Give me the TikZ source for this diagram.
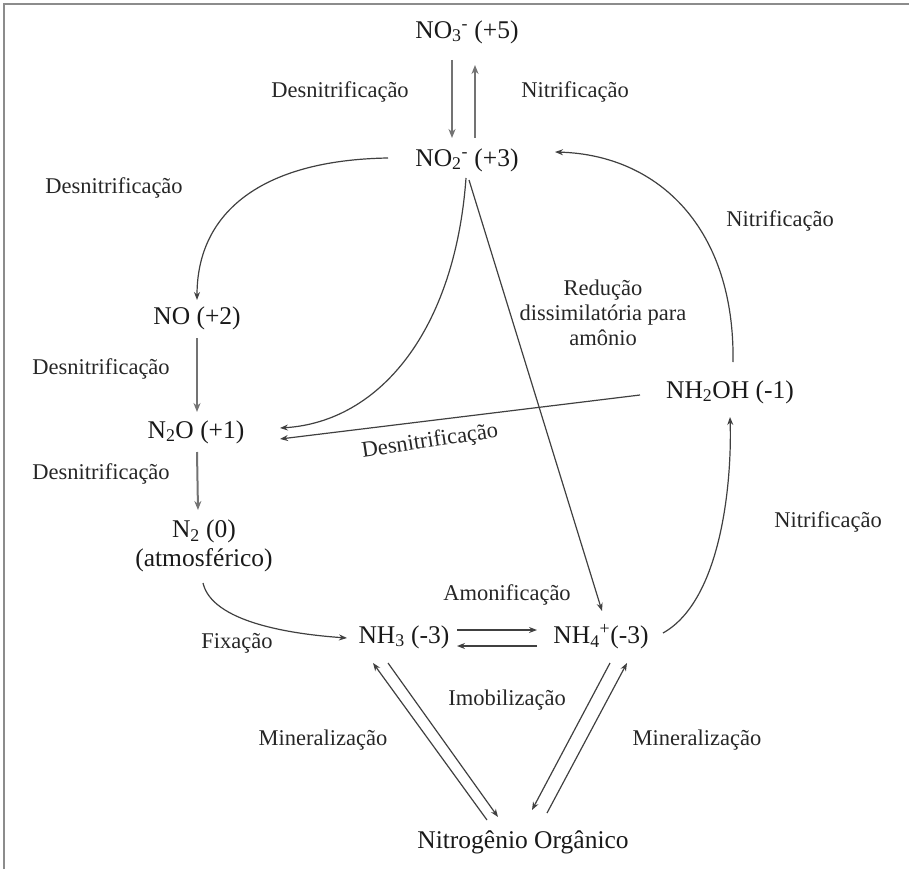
\documentclass[tikz,border=0pt]{standalone}
\usepackage{fontspec}
\setmainfont{Liberation Serif}
\usetikzlibrary{arrows.meta,calc}
\begin{document}
\begin{tikzpicture}[x=1pt,y=-1pt,
  chem/.style={font=\fontsize{25.5}{29}\selectfont, inner sep=1pt, text=black!90},
  lbl/.style={font=\fontsize{22.5}{25}\selectfont, inner sep=1pt, text=black!85},
  arr/.style={draw=black!75, line width=1.2pt, -{Stealth[length=8pt,width=6pt]}},
  varr/.style={draw=black!55, line width=2pt, -{Stealth[length=9pt,width=7pt]}}]
\useasboundingbox (0,0) rectangle (909,869);
\draw[black!45, line width=2.5pt] (4,869) -- (4,4) -- (909,4);

% chemical species
\node[chem] (no5) at (467,32) {NO\textsubscript{3}\textsuperscript{-} (+5)};
\node[chem] (no2) at (467,160) {NO\textsubscript{2}\textsuperscript{-} (+3)};
\node[chem] (no) at (197,318) {NO (+2)};
\node[chem] (n2o) at (196,432) {N\textsubscript{2}O (+1)};
\node[chem, align=center] (n2) at (204,546) {N\textsubscript{2} (0)\\(atmosférico)};
\node[chem] (nh3) at (404,637) {NH\textsubscript{3} (-3)};
\node[chem] (nh4) at (601,637) {NH\textsubscript{4}\textsuperscript{+}(-3)};
\node[chem] (nh2oh) at (730,392) {NH\textsubscript{2}OH (-1)};
\node[chem] (org) at (523,842) {Nitrogênio Orgânico};

% labels
\node[lbl] (l1) at (340,92) {Desnitrificação};
\node[lbl] (l2) at (575,92) {Nitrificação};
\node[lbl] (l3) at (114,188) {Desnitrificação};
\node[lbl] (l4) at (780,221) {Nitrificação};
\node[lbl, align=center] (l5) at (603,313) {Redução\\dissimilatória para\\amônio};
\node[lbl] (l6) at (101,369) {Desnitrificação};
\node[lbl] (l7) at (101,474) {Desnitrificação};
\node[lbl, rotate=8.5] (l8) at (430,442) {Desnitrificação};
\node[lbl] (l9) at (828,522) {Nitrificação};
\node[lbl] (l10) at (507,595) {Amonificação};
\node[lbl] (l11) at (237,643) {Fixação};
\node[lbl] (l12) at (507,700) {Imobilização};
\node[lbl] (l13) at (323,740) {Mineralização};
\node[lbl] (l14) at (697,740) {Mineralização};

% NO3 <-> NO2
\draw[varr, line width=1.6pt] ($(no5.center)+(-15,28)$) -- ($(no2.center)+(-15,-22)$);
\draw[varr, line width=1.6pt] ($(no2.center)+(8,-22)$) -- ($(no5.center)+(8,33)$);

% NO2 -> NO
\draw[arr] ($(no2.center)+(-79,-2)$) .. controls (262,160) and (197,212) .. ($(no.center)+(0,-18)$);
% NO -> N2O -> N2
\draw[varr] ($(no.center)+(0,20)$) -- ($(n2o.center)+(1,-20)$);
\draw[varr] ($(n2o.center)+(1,20)$) -- ($(n2.center)+(-6,-36)$);

% NO2 -> N2O
\draw[arr] ($(no2.center)+(-1,18)$) .. controls (455,330) and (380,422) .. ($(n2o.center)+(84,-4)$);
% NH2OH -> N2O
\draw[arr] ($(nh2oh.center)+(-90,3)$) -- ($(n2o.center)+(84,7)$);
% NO2 -> NH4
\draw[arr] ($(no2.center)+(2,20)$) -- ($(nh4.center)+(1,-26)$);
% NH2OH -> NO2
\draw[arr] ($(nh2oh.center)+(3,-30)$) .. controls (735,230) and (660,155) .. ($(no2.center)+(88,-8)$);
% NH4 -> NH2OH
\draw[arr] ($(nh4.center)+(62,-4)$) .. controls (722,600) and (732,480) .. ($(nh2oh.center)+(0,25)$);
% N2 -> NH3
\draw[arr] ($(n2.center)+(-1,37)$) .. controls (212,622) and (290,634) .. ($(nh3.center)+(-57,1)$);
% NH3 <-> NH4
\draw[arr] ($(nh3.center)+(53,-7)$) -- ($(nh4.center)+(-64,-7)$);
\draw[arr] ($(nh4.center)+(-64,9)$) -- ($(nh3.center)+(53,9)$);
% NH3 <-> Org
\draw[arr] ($(org.center)+(-36,-22)$) -- ($(nh3.center)+(-31,26)$);
\draw[arr] ($(nh3.center)+(-16,26)$) -- ($(org.center)+(-25,-25)$);
% NH4 <-> Org
\draw[arr] ($(nh4.center)+(9,26)$) -- ($(org.center)+(9,-32)$);
\draw[arr] ($(org.center)+(24,-29)$) -- ($(nh4.center)+(26,26)$);
\end{tikzpicture}
\end{document}
